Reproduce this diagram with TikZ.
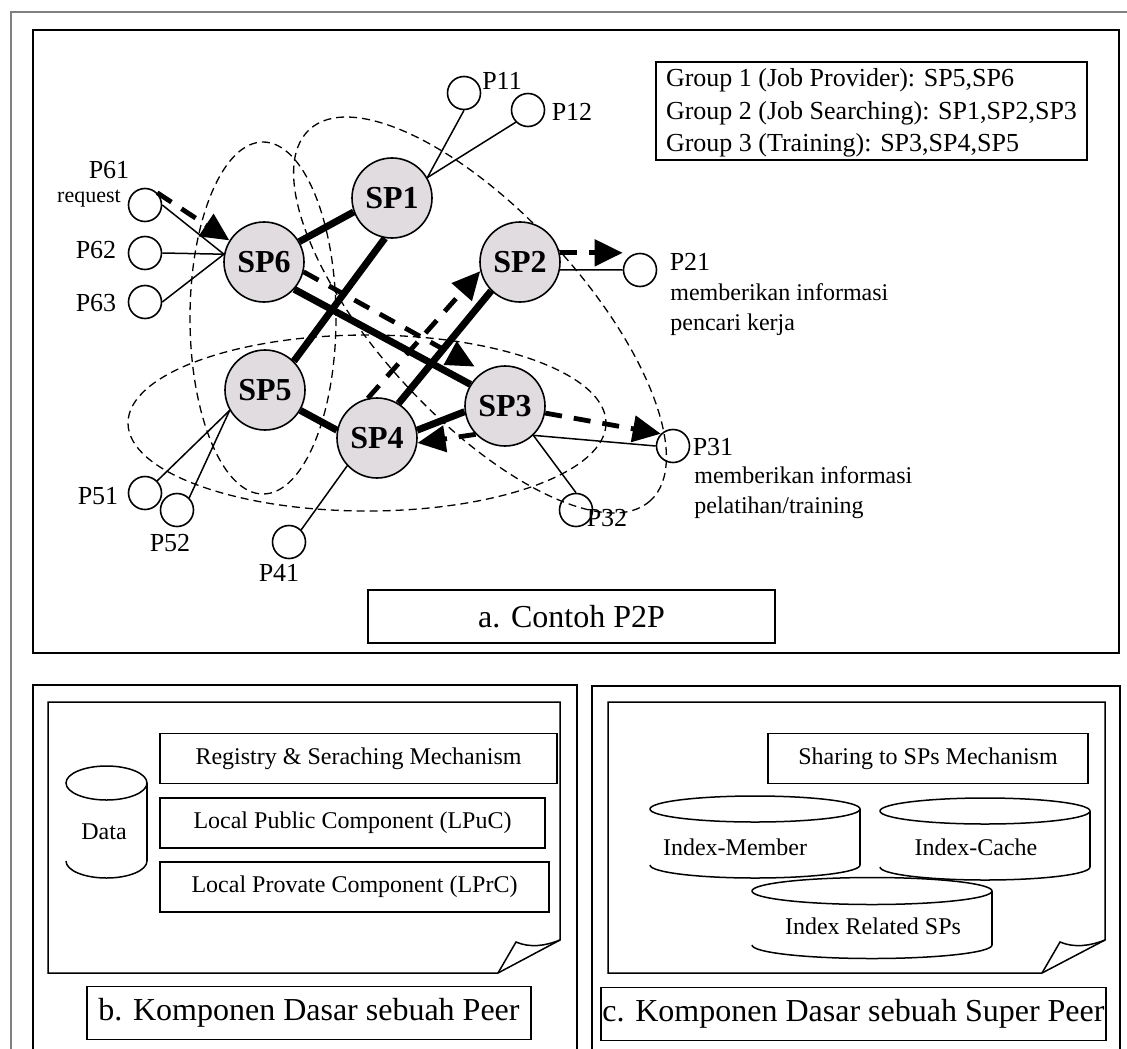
\documentclass[tikz,border=0pt]{standalone}
\usepackage{fontspec}
\setmainfont{Liberation Serif}
\usetikzlibrary{arrows.meta,positioning}

\definecolor{spgray}{RGB}{224,220,224}

% open-sided data store: centre x, top y, bottom y, x radius, y radius
\newcommand{\storage}[5]{%
  \draw[member] (#1,#2) ellipse [x radius=#4, y radius=#5];
  \draw[member] (#1+#4,#2) -- (#1+#4,#3);
  \draw[member] (#1-#4,#3) arc [start angle=180, end angle=360, x radius=#4*0.5pt, y radius=#5*0.5pt];
}

\begin{document}
\begin{tikzpicture}[x=0.5pt, y=-0.5pt,
    sp/.style={circle, draw, fill=spgray, line width=0.8pt, minimum size=40pt, inner sep=0pt, font=\fontsize{16}{16}\selectfont\bfseries},
    peer/.style={circle, draw, line width=0.8pt, minimum size=16.5pt, inner sep=0pt},
    plabel/.style={inner sep=0pt, font=\fontsize{13}{13}\selectfont},
    desc/.style={inner sep=0pt, align=left, anchor=north west, font=\fontsize{12}{15}\selectfont},
    link/.style={line width=3.5pt},
    member/.style={line width=0.75pt},
    msg/.style={line width=2.4pt, dash pattern=on 8.5pt off 6pt, -{Triangle[length=14pt,width=13pt]}},
    group/.style={line width=0.65pt, dash pattern=on 4pt off 2.5pt},
    box/.style={draw, line width=0.8pt, inner sep=0pt, minimum height=25pt, font=\fontsize{12}{12}\selectfont},
    caption/.style={draw, line width=0.9pt, inner sep=0pt, minimum height=26.5pt, font=\fontsize{16}{16}\selectfont},
    panel/.style={line width=1.2pt}]
\useasboundingbox (0,0) rectangle (1127,1048);

% frames
\draw[gray, line width=1pt] (11,1060) -- (11,12) -- (1140,12);
\draw[panel] (33,30) rectangle (1119,653);
\draw[panel] (33,1060) -- (33,685) -- (577,685) -- (577,1060);
\draw[panel] (592,1060) -- (592,686) -- (1120,686) -- (1120,1060);

% groups
\draw[group] (263,318) ellipse [x radius=73, y radius=176];
\draw[group, rotate around={-47.4:(480,315)}] (480,315) ellipse [x radius=252, y radius=102];
\draw[group] (367,423) ellipse [x radius=239, y radius=88];

% super peers
\node[sp] (SP1) at (392,198) {SP1};
\node[sp] (SP2) at (520,262) {SP2};
\node[sp] (SP3) at (505,406) {SP3};
\node[sp] (SP4) at (377,438) {SP4};
\node[sp] (SP5) at (265,390) {SP5};
\node[sp] (SP6) at (264,262) {SP6};

% peers
\node[peer] (P11) at (464,93) {};
\node[peer] (P12) at (528,110) {};
\node[peer] (P61) at (145,205) {};
\node[peer] (P62) at (145,253) {};
\node[peer] (P63) at (145,302) {};
\node[peer] (P21) at (640,270) {};
\node[peer] (P31) at (673,446) {};
\node[peer] (P32) at (576,510) {};
\node[peer] (P41) at (289,542) {};
\node[peer] (P51) at (145,493) {};
\node[peer] (P52) at (177,510) {};

\node[plabel] (lP11) at (502,81) {P11};
\node[plabel] (lP12) at (572,112) {P12};
\node[plabel] (lP61) at (109,170) {P61};
\node[plabel, font=\fontsize{11}{11}\selectfont] (lreq) at (89,199) {request};
\node[plabel] (lP62) at (96,250) {P62};
\node[plabel] (lP63) at (96,303) {P63};
\node[plabel] (lP21) at (690,262) {P21};
\node[desc] (dP21) at (670,283) {memberikan informasi\\pencari kerja};
\node[plabel] (lP31) at (713,447) {P31};
\node[desc] (dP31) at (694,466) {memberikan informasi\\pelatihan/training};
\node[plabel] (lP32) at (607,518) {P32};
\node[plabel] (lP41) at (279,573) {P41};
\node[plabel] (lP51) at (98,496) {P51};
\node[plabel] (lP52) at (170,543) {P52};

% links between super peers
\draw[link] (SP6.30) -- (SP1.200);
\draw[link] (SP1.260) -- (SP5.45);
\draw[link] (SP6.318) -- (SP3.148);
\draw[link] (SP2.225) -- (SP4.58);
\draw[link] (SP5.330) -- (SP4.169);
\draw[link] (SP4.11) -- (SP3.188);

% members
\draw[member] (P11.south) -- (SP1.30);
\draw[member] (P12.south west) -- (SP1.30);
\draw[member] (P61.east) -- (SP6.169);
\draw[member] (P62.east) -- (SP6.169);
\draw[member] (P63.east) -- (SP6.169);
\draw[member] (SP2.349) -- (P21.west);
\draw[member] (SP3.314) -- (P31.west);
\draw[member] (SP3.314) -- (P32.north);
\draw[member] (P41.north east) -- (SP4.223);
\draw[member] (P51.north east) -- (SP5.210);
\draw[member] (P52.north east) -- (SP5.210);

% messages
\draw[msg] (P61.north east) -- (SP6.148);
\draw[msg, shorten >=5pt] (SP6.346) -- (SP3.122);
\draw[msg] (SP4.103) -- (SP2.193);
\draw[msg] (SP3.224) -- (SP4.353);
\draw[msg] (SP2.13) -- (SP2.13 -| P21.west);
\draw[msg] (SP3.350) -- (P31.135);

% legend and caption
\node[draw, line width=0.9pt, inner sep=0pt, align=left, minimum width=215.5pt, minimum height=49pt,
  font=\fontsize{13}{16.25}\selectfont] (legend) at (871.5,111)
  {\rule{0pt}{11pt}Group 1 (Job Provider): SP5,SP6\\Group 2 (Job Searching): SP1,SP2,SP3\\Group 3 (Training): SP3,SP4,SP5};
\node[caption, minimum width=203.5pt] (capa) at (571.5,616.5) {a. Contoh P2P};

% peer components
\draw[member] (48,702) -- (560,702) -- (560,940) -- (498,973) -- (48,973) -- cycle;
\draw[member] (498,973) -- (516,942) .. controls (530,948) and (545,946) .. (560,940);
\storage{106.5}{783}{861}{40.5}{17}
\node[plabel, font=\fontsize{12}{12}\selectfont] (data) at (104,832) {Data};
\node[box, minimum width=198.5pt] (reg) at (358.5,758.5) {Registry \& Seraching Mechanism};
\node[box, minimum width=192.5pt] (lpuc) at (352.5,823) {Local Public Component (LPuC)};
\node[box, minimum width=194.5pt] (lprc) at (354.5,887) {Local Provate Component (LPrC)};
\node[caption, minimum width=222pt] (capb) at (309,1013) {b. Komponen Dasar sebuah Peer};

% super peer components
\draw[member] (608,702) -- (1105,702) -- (1105,940) -- (1042,973) -- (608,973) -- cycle;
\draw[member] (1042,973) -- (1060,942) .. controls (1074,948) and (1090,946) .. (1105,940);
\node[box, minimum width=160pt] (share) at (928,758.5) {Sharing to SPs Mechanism};
\storage{755}{809}{865}{105}{13}
\storage{985}{811}{867}{105}{13}
\storage{872}{891}{945}{120}{13.5}
\node[plabel, font=\fontsize{12}{12}\selectfont] (imem) at (735,847) {Index-Member};
\node[plabel, font=\fontsize{12}{12}\selectfont] (icache) at (976,847) {Index-Cache};
\node[plabel, font=\fontsize{12}{12}\selectfont] (irel) at (873,926) {Index Related SPs};
\node[caption, minimum width=252.5pt] (capc) at (853.5,1014) {c. Komponen Dasar sebuah Super Peer};
\end{tikzpicture}
\end{document}
